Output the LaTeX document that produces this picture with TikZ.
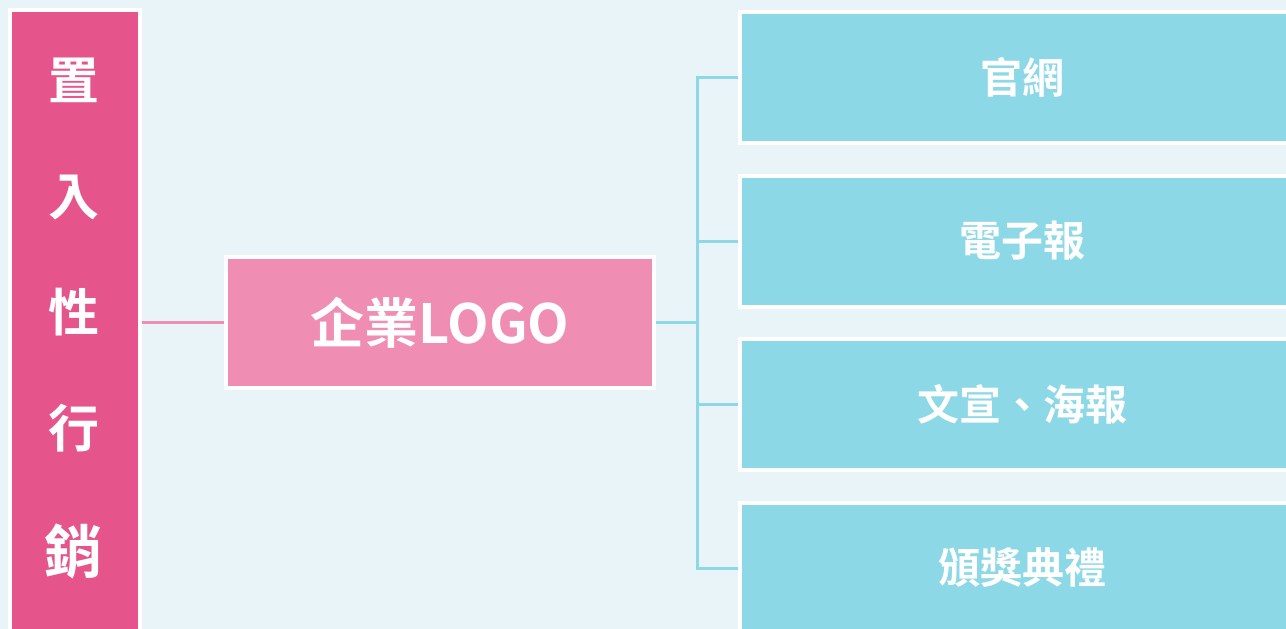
\documentclass[tikz,border=0pt]{standalone}
\usepackage{fontspec}
\setmainfont{Noto Sans CJK TC}[BoldFont={* Bold}]
\definecolor{bgc}{HTML}{E8F4F8}
\definecolor{deep}{HTML}{E6548C}
\definecolor{mid}{HTML}{F08DB3}
\definecolor{teal}{HTML}{8CD8E6}
\tikzset{
  boxbase/.style={draw=white,line width=4pt,inner sep=0pt,text=white,font=\bfseries},
  bluebox/.style={boxbase,fill=teal,minimum width=564pt,minimum height=131pt,font=\fontsize{42}{48}\selectfont\bfseries},
  tealline/.style={draw=teal,line width=3pt},
  pinkline/.style={draw=mid,line width=3pt}
}
\begin{document}
\begin{tikzpicture}[x=1pt,y=-1pt]
\useasboundingbox[fill=bgc] (0,0) rectangle (1286,629);
\node[boxbase,fill=deep,minimum width=130pt,minimum height=626pt] (left) at (74.5,322.5) {};
\node[text=white,font=\fontsize{51}{116}\selectfont\bfseries,align=center,inner sep=0pt] (lefttext) at (74,319) {置\\ 入\\ 性\\ 行\\[10pt] \fontsize{58}{116}\selectfont 銷};
\node[boxbase,fill=mid,minimum width=428pt,minimum height=131pt,font=\fontsize{54}{60}\selectfont\bfseries] (logo) at (440,322.5) {企業LOGO};
\node[bluebox] (r1) at (1022,77.5) {官網};
\node[bluebox] (r2) at (1022,241) {電子報};
\node[bluebox] (r3) at (1022,404.5) {文宣、海報};
\node[bluebox] (r4) at (1022,568) {頒獎典禮};
\coordinate (spine) at (697,322.5);
\draw[pinkline] (left.east) -- (logo.west);
\draw[tealline] (logo.east) -- (spine);
\draw[tealline] (spine) |- (r1.west);
\draw[tealline] (spine) |- (r2.west);
\draw[tealline] (spine) |- (r3.west);
\draw[tealline] (spine) |- (r4.west);
\end{tikzpicture}
\end{document}
